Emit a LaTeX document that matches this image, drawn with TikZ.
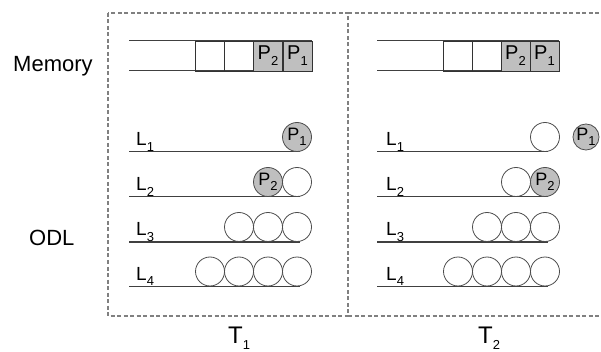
\documentclass[tikz,border=0pt]{standalone}
\usepackage{fontspec}
\setmainfont{Liberation Sans}
\usetikzlibrary{positioning}
\newcommand\lowsub[1]{\raisebox{-0.55ex}{\fontsize{13}{13}\selectfont #1}}

\begin{document}
\begin{tikzpicture}[x=1pt, y=-1pt,
		frame/.style={draw=black!50, line width=1.1pt, dash pattern=on 4pt off 2.5pt},
		slot/.style={draw=black!80, line width=0.8pt, minimum width=29pt, minimum height=30pt, inner sep=0pt},
		pslot/.style={slot, fill=black!25, font=\fontsize{20}{20}\selectfont},
		ball/.style={circle, draw=black!70, line width=0.8pt, minimum size=29pt, inner sep=0pt},
		pball/.style={ball, fill=black!25, font=\fontsize{18}{18}\selectfont},
		rail/.style={draw=black!75, line width=1pt},
		lab/.style={anchor=base west, inner sep=0pt, font=\fontsize{19}{19}\selectfont},
		big/.style={anchor=base west, inner sep=0pt, font=\fontsize{22}{22}\selectfont}]
	%%%%% START %%%%%
	
	\useasboundingbox (0,0) rectangle (601,352);
	
	% time frames
	\draw[frame] (108,13) rectangle (348,316);
	\draw[frame] (348,13) -- (601,13);
	\draw[frame] (348,316) -- (601,316);
	
	\node[big] (memlab) at (13,72) {Memory};
	\node[big] (odllab) at (29,246) {ODL};
	\node[big, font=\fontsize{24}{24}\selectfont] (t1lab) at (228,343) {T\lowsub{1}};
	\node[big, font=\fontsize{24}{24}\selectfont] (t2lab) at (478,343) {T\lowsub{2}};
	
	% memory at T1
	\draw[rail] (129,41) -- (312,41);
	\draw[rail] (129,71) -- (312,71);
	\node[slot] (ma1) at (209.5,56) {};
	\node[slot] (ma2) at (238.5,56) {};
	\node[pslot] (ma3) at (268,56) {P\lowsub{2}};
	\node[pslot] (ma4) at (297.5,56) {P\lowsub{1}};
	
	% memory at T2
	\draw[rail] (377,41) -- (559,41);
	\draw[rail] (377,71) -- (559,71);
	\node[slot] (mb1) at (457.5,56) {};
	\node[slot] (mb2) at (486.5,56) {};
	\node[pslot] (mb3) at (515.5,56) {P\lowsub{2}};
	\node[pslot] (mb4) at (544.5,56) {P\lowsub{1}};
	
	% levels at T1
	\draw[rail] (129,152) -- (300,152);
	\draw[rail] (129,197) -- (300,197);
	\draw[rail] (129,242) -- (300,242);
	\draw[rail] (129,286) -- (300,286);
	\node[lab] (la1) at (136,146) {L\lowsub{1}};
	\node[lab] (la2) at (136,191) {L\lowsub{2}};
	\node[lab] (la3) at (136,236) {L\lowsub{3}};
	\node[lab] (la4) at (136,280) {L\lowsub{4}};
	
	\node[pball] (a1p1) at (297,137) {P\lowsub{1}};
	\node[pball] (a2p2) at (268,182) {P\lowsub{2}};
	\node[ball] (a2b1) at (297,182) {};
	\foreach \x [count=\i] in {239,268,297}
		\node[ball] (a3b\i) at (\x,227) {};
	\foreach \x [count=\i] in {210,239,268,297}
		\node[ball] (a4b\i) at (\x,271.5) {};
	
	% levels at T2
	\draw[rail] (377,152) -- (548,152);
	\draw[rail] (377,197) -- (548,197);
	\draw[rail] (377,242) -- (548,242);
	\draw[rail] (377,286) -- (548,286);
	\node[lab] (lb1) at (386,146) {L\lowsub{1}};
	\node[lab] (lb2) at (386,191) {L\lowsub{2}};
	\node[lab] (lb3) at (386,236) {L\lowsub{3}};
	\node[lab] (lb4) at (386,280) {L\lowsub{4}};
	
	\node[ball] (b1b1) at (545,137) {};
	\node[pball, minimum size=26pt] (b1p1) at (586,137) {P\lowsub{1}};
	\node[ball] (b2b1) at (516,182) {};
	\node[pball] (b2p2) at (545,182) {P\lowsub{2}};
	\foreach \x [count=\i] in {487,516,545}
		\node[ball] (b3b\i) at (\x,227) {};
	\foreach \x [count=\i] in {458,487,516,545}
		\node[ball] (b4b\i) at (\x,271.5) {};
	
	%%%%% END %%%%%
\end{tikzpicture}
\end{document}
